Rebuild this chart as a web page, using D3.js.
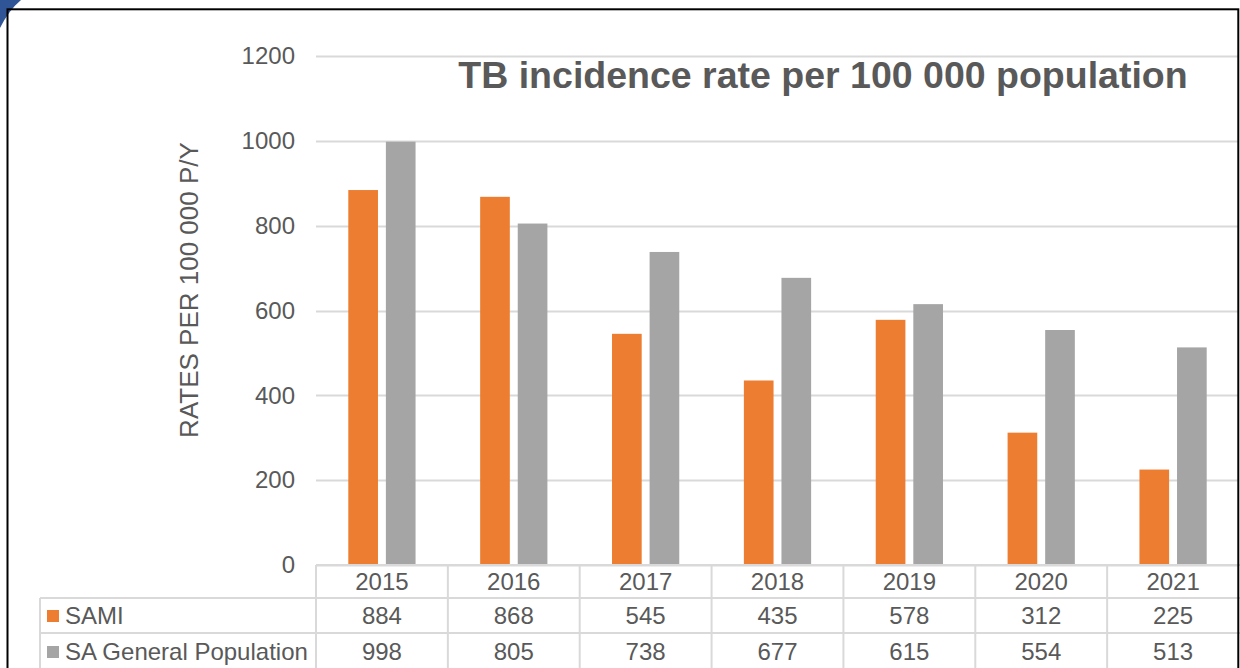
<!DOCTYPE html>
<html>
<head>
<meta charset="utf-8">
<script src="https://cdn.jsdelivr.net/npm/d3@7"></script>
<style>
  html, body { margin: 0; padding: 0; background: #fff; }
  svg { display: block; }
  text { font-family: "Liberation Sans", Arial, sans-serif; }
</style>
</head>
<body>
<svg id="chart" width="1240" height="668"></svg>
<script>
const years = ["2015", "2016", "2017", "2018", "2019", "2020", "2021"];
const seriesNames = ["SAMI", "SA General Population"];
const sami = [884, 868, 545, 435, 578, 312, 225];
const saGeneral = [998, 805, 738, 677, 615, 554, 513];
const yTicks = [0, 200, 400, 600, 800, 1000, 1200];
const colors = ["#ED7D31", "#A5A5A5"];
const titleText = "TB incidence rate per 100 000 population";
const yTitle = "RATES PER 100 000 P/Y";

const series = [sami, saGeneral];
const svg = d3.select("#chart");
const textColor = "#595959";
const gridColor = "#D9D9D9";
const fs = "24px";

const plotLeft = 316, plotRight = 1239, plotTop = 56, plotBottom = 565;

const x = d3.scaleBand().domain(years).range([plotLeft, plotRight]).padding(0);
const y = d3.scaleLinear().domain([0, 1200]).range([plotBottom, plotTop]);

// corner decoration
svg.append("path")
  .attr("d", "M0,0 L21,0 Q9,10 0,28 Z")
  .attr("fill", "#2F5597");

// gridlines
svg.append("g").selectAll("line").data(yTicks).join("line")
  .attr("x1", plotLeft).attr("x2", 1238)
  .attr("y1", d => Math.round(y(d)) + 0.5).attr("y2", d => Math.round(y(d)) + 0.5)
  .attr("stroke", gridColor).attr("stroke-width", 2);

// y tick labels via axis
const yAxis = svg.append("g")
  .attr("transform", `translate(${plotLeft - 21},0)`)
  .call(d3.axisLeft(y).tickValues(yTicks).tickFormat(d3.format("d")).tickSize(0).tickPadding(0));
yAxis.select(".domain").remove();
yAxis.selectAll("text")
  .attr("fill", textColor)
  .style("font-size", fs)
  .style("font-family", "'Liberation Sans', Arial, sans-serif");

// y title
svg.append("text")
  .attr("transform", `translate(198,290) rotate(-90)`)
  .attr("text-anchor", "middle")
  .attr("fill", textColor)
  .style("font-size", "26px")
  .text(yTitle);

// bars
const bw = x.bandwidth();
const barW = bw * 0.225;
const gap = bw * 0.06;
const groupW = barW * 2 + gap;
series.forEach((vals, si) => {
  svg.append("g").selectAll("rect").data(vals).join("rect")
    .attr("x", (d, i) => x(years[i]) + (bw - groupW) / 2 + si * (barW + gap))
    .attr("width", barW)
    .attr("y", d => y(d))
    .attr("height", d => y(0) - y(d))
    .attr("fill", colors[si]);
});

// title
svg.append("text")
  .attr("x", 823).attr("y", 88)
  .attr("text-anchor", "middle")
  .attr("fill", textColor)
  .style("font-size", "37.5px")
  .style("font-weight", "bold")
  .text(titleText);

// data table
const tableTop = 565, row1 = 598, row2 = 633, tableBottom = 700, tableLeft = 40;
const tg = svg.append("g");
tg.append("line").attr("x1", plotLeft).attr("x2", 1240).attr("y1", tableTop).attr("y2", tableTop)
  .attr("stroke", gridColor).attr("stroke-width", 2);
[row1, row2].forEach(yy => {
  tg.append("line").attr("x1", tableLeft).attr("x2", 1240).attr("y1", yy).attr("y2", yy)
    .attr("stroke", gridColor).attr("stroke-width", 2);
});
tg.selectAll("line.v").data(years).join("line").attr("class", "v")
  .attr("x1", d => x(d)).attr("x2", d => x(d))
  .attr("y1", tableTop).attr("y2", tableBottom)
  .attr("stroke", gridColor).attr("stroke-width", 2);
tg.append("line").attr("x1", tableLeft).attr("x2", tableLeft).attr("y1", row1).attr("y2", tableBottom)
  .attr("stroke", gridColor).attr("stroke-width", 2);

tg.selectAll("text.yr").data(years).join("text").attr("class", "yr")
  .attr("x", d => x(d) + bw / 2).attr("y", 590)
  .attr("text-anchor", "middle").attr("fill", textColor)
  .style("font-size", fs).text(d => d);

const rowY = [624, 660];
series.forEach((vals, si) => {
  tg.append("rect").attr("x", 47).attr("y", rowY[si] - 14).attr("width", 12).attr("height", 12)
    .attr("fill", colors[si]);
  tg.append("text").attr("x", 65).attr("y", rowY[si])
    .attr("fill", textColor).style("font-size", fs).text(seriesNames[si]);
  tg.selectAll("text.v" + si).data(vals).join("text").attr("class", "v" + si)
    .attr("x", (d, i) => x(years[i]) + bw / 2).attr("y", rowY[si])
    .attr("text-anchor", "middle").attr("fill", textColor)
    .style("font-size", fs).text(d => d);
});

// outer border
svg.append("rect")
  .attr("x", 7.5).attr("y", 9.3).attr("width", 1230.8).attr("height", 700)
  .attr("fill", "none").attr("stroke", "#000").attr("stroke-width", 2);
</script>
</body>
</html>
